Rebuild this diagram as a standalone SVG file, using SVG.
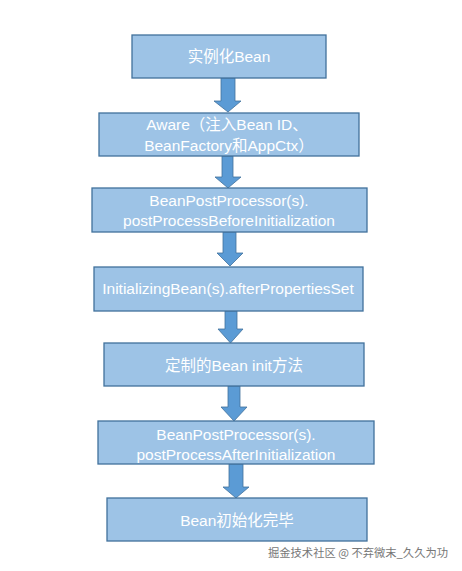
<svg xmlns="http://www.w3.org/2000/svg" width="462" height="571" viewBox="0 0 462 571">
<style>
.box{fill:#9DC3E6;stroke:#41719C;stroke-width:1.3}
.arr{fill:#5B9BD5;stroke:#41719C;stroke-width:0.8}
.t{font-family:"Liberation Sans","Noto Sans CJK SC",sans-serif;font-size:15.5px;fill:#FFFFFF;text-anchor:middle}
.wm{font-family:"Noto Sans CJK SC","Liberation Sans",sans-serif;font-size:11.5px;fill:#777777}
</style>
<rect width="462" height="571" fill="#FFFFFF"/>
<g id="connectors">
<polygon class="arr" points="221,78 235,78 235,101 241,101 228,112 214,101 221,101"/>
<polygon class="arr" points="222,156 233,156 233,177 241,177 228,188 215,177 222,177"/>
<polygon class="arr" points="223,232 236,232 236,253 243,253 230,266 217,253 223,253"/>
<polygon class="arr" points="225,311 237,311 237,329 243,329 230.5,343 218,329 225,329"/>
<polygon class="arr" points="228,386 240,386 240,407 247,407 234,421 221,407 228,407"/>
<polygon class="arr" points="229,464 243,464 243,487 249,487 236,498 223,487 229,487"/>
</g>
<g id="n1"><rect class="box" x="132" y="35" width="194" height="43"/><text class="t" x="229" y="62">实例化Bean</text></g>
<g id="n2"><rect class="box" x="99" y="113" width="260" height="43"/><text class="t" x="227" y="129.5">Aware（注入Bean ID、</text><text class="t" x="229" y="150.5">BeanFactory和AppCtx）</text></g>
<g id="n3"><rect class="box" x="92" y="188" width="275" height="44"/><text class="t" x="229" y="205.5">BeanPostProcessor(s).</text><text class="t" x="229" y="225.5">postProcessBeforeInitialization</text></g>
<g id="n4"><rect class="box" x="94" y="267" width="269" height="44"/><text class="t" x="228" y="294">InitializingBean(s).afterPropertiesSet</text></g>
<g id="n5"><rect class="box" x="104" y="343" width="260" height="43"/><text class="t" x="234" y="370.5">定制的Bean init方法</text></g>
<g id="n6"><rect class="box" x="98" y="421" width="276" height="43"/><text class="t" x="236" y="439.5">BeanPostProcessor(s).</text><text class="t" x="236" y="459.5">postProcessAfterInitialization</text></g>
<g id="n7"><rect class="box" x="107" y="498" width="260" height="43"/><text class="t" x="237" y="525.5">Bean初始化完毕</text></g>
<text class="wm" x="268" y="557" textLength="180" lengthAdjust="spacingAndGlyphs">掘金技术社区 @ 不弃微末_久久为功</text>
</svg>
